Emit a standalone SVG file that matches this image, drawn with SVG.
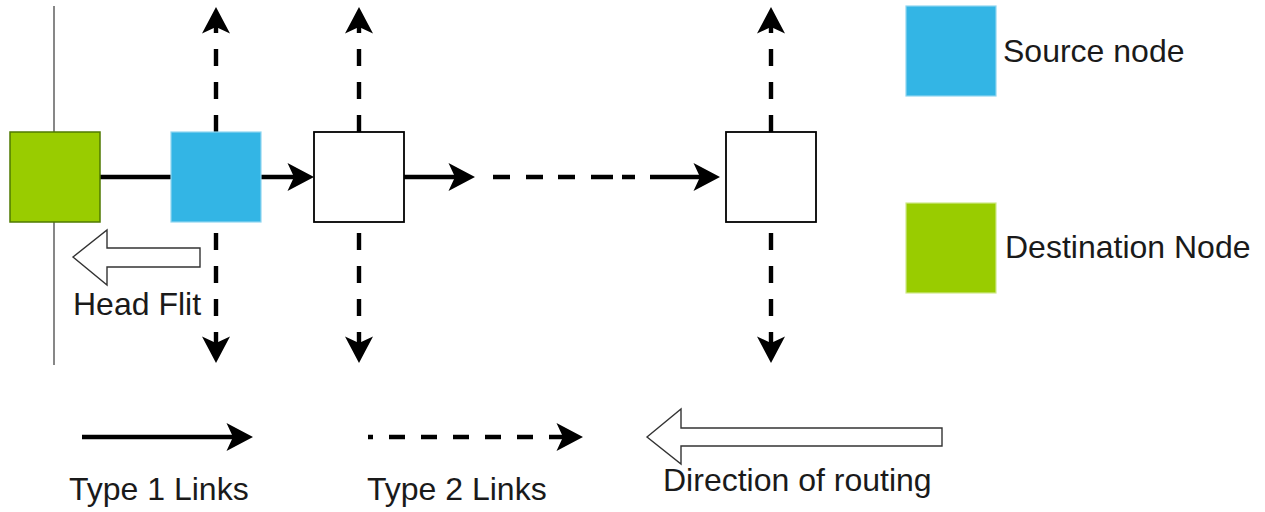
<svg xmlns="http://www.w3.org/2000/svg" width="1265" height="512" viewBox="0 0 1265 512">
  <style>
    .lbl { font-family: "Liberation Sans", Arial, sans-serif; font-size: 32px; fill: #1a1a1a; }
    .link { fill: none; stroke: #000; stroke-width: 4.4; }
    .t2 { stroke-dasharray: 17 16; }
    .router { fill: #fff; stroke: #000; stroke-width: 1.8; }
    .src { fill: #33b5e5; stroke: #8fd6f0; stroke-width: 1.2; }
    .dst { fill: #99cc00; stroke: #4f7a00; stroke-width: 1.5; }
    .dst-key { fill: #99cc00; stroke: #cfe88a; stroke-width: 1.2; }
    .block { fill: #fff; stroke: #333; stroke-width: 1.4; stroke-linejoin: miter; }
  </style>
  <defs>
    <!-- classic arrowhead; tip sits 20px beyond the path end -->
    <marker id="ah" markerUnits="userSpaceOnUse" orient="auto" overflow="visible" markerWidth="30" markerHeight="30">
      <path d="M20,0 L-6.5,-14 L0,0 L-6.5,14 Z" fill="#000"/>
    </marker>
  </defs>

  <rect width="1265" height="512" fill="#fff"/>

  <!-- boundary line behind the destination -->
  <line x1="54" y1="6" x2="54" y2="365" stroke="#7a7a7a" stroke-width="1.8"/>

  <g id="connectors">
    <!-- horizontal chain -->
    <path class="link" d="M100,177 H294" marker-end="url(#ah)"/>
    <path class="link" d="M404,177 H455" marker-end="url(#ah)"/>
    <path class="link" d="M493,177 H510 M526,177 H543 M558,177 H575 M591,177 H613 M622,177 H635"/>
    <path class="link" d="M650,177 H700" marker-end="url(#ah)"/>

    <!-- vertical type 2 links -->
    <path class="link t2" d="M216,132 V27" marker-end="url(#ah)"/>
    <path class="link t2" d="M216,233 V343" marker-end="url(#ah)"/>
    <path class="link t2" d="M359,132 V27" marker-end="url(#ah)"/>
    <path class="link t2" d="M359,233 V343" marker-end="url(#ah)"/>
    <path class="link t2" d="M771,132 V27" marker-end="url(#ah)"/>
    <path class="link t2" d="M771,233 V343" marker-end="url(#ah)"/>
  </g>

  <g id="node-destination">
    <rect class="dst" x="10" y="132" width="90" height="90"/>
  </g>
  <g id="node-source">
    <rect class="src" x="171" y="132" width="90" height="90"/>
  </g>
  <g id="node-router-1">
    <rect class="router" x="314" y="132" width="90" height="90"/>
  </g>
  <g id="node-router-n">
    <rect class="router" x="726" y="132" width="90" height="90"/>
  </g>

  <g id="head-flit">
    <polygon class="block" points="73,257 107,230 107,248 200,248 200,267 107,267 107,285"/>
    <text class="lbl" x="73" y="315">Head Flit</text>
  </g>

  <g id="key-source">
    <rect class="src" x="906" y="6" width="90" height="90"/>
    <text class="lbl" x="1003" y="62">Source node</text>
  </g>
  <g id="key-destination">
    <rect class="dst-key" x="906" y="203" width="90" height="90"/>
    <text class="lbl" x="1005" y="258">Destination Node</text>
  </g>

  <g id="key-type1">
    <path class="link" d="M82,437 H233" marker-end="url(#ah)"/>
    <text class="lbl" x="69" y="500">Type 1 Links</text>
  </g>
  <g id="key-type2">
    <path class="link" d="M368,437 H563" stroke-dasharray="16 16" stroke-dashoffset="11" marker-end="url(#ah)"/>
    <text class="lbl" x="367" y="500">Type 2 Links</text>
  </g>
  <g id="key-direction">
    <polygon class="block" points="647,437 681,409 681,428 942,428 942,446 681,446 681,464"/>
    <text class="lbl" x="663" y="491">Direction of routing</text>
  </g>
</svg>
